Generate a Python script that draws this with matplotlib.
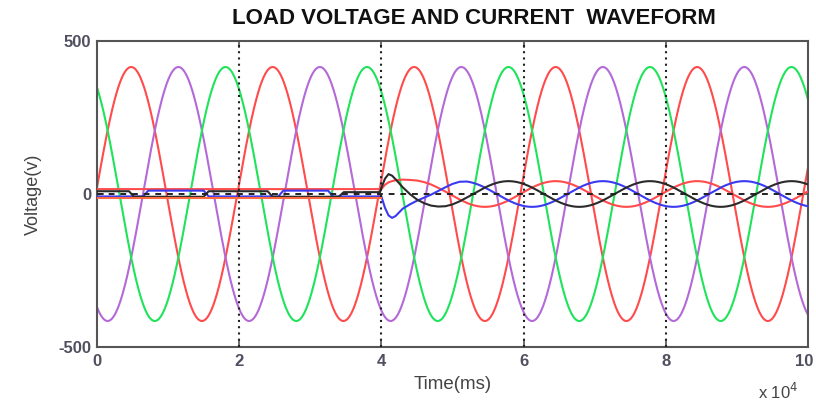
import numpy as np
import matplotlib
matplotlib.use("Agg")
import matplotlib.pyplot as plt
import matplotlib.transforms as mtransforms

plt.rcParams['font.family'] = ['Liberation Sans', 'DejaVu Sans']

# ---------------- data ----------------
# time axis in units of 1e4 ms
x_ticks = [0, 2, 4, 6, 8, 10]
y_ticks = [-500, 0, 500]
grid_x = [2, 4, 6, 8]

# three-phase load voltage: amplitude, period, phase (deg)
v_amp = 415.0
period = 1.99
phase_red = 3.0
phase_purple = -117.0
phase_green = 123.0

# load currents after the switching instant (t = 4): amplitude, same phases
i_amp = 42.0
t_switch = 4.0

# currents before switching (small step-like levels)
red_pre_level = 16.0
orange_pre_level = -12.0
blue_pre_t = [0.0, 0.65, 0.72, 1.5, 1.57, 2.55, 2.62, 3.25, 3.32, 4.0]
blue_pre_v = [-8, -8, 11, 11, -8, -8, 11, 11, -8, -8]
black_pre_t = [0.0, 0.45, 0.52, 1.5, 1.57, 2.4, 2.47, 3.4, 3.47, 3.98]
black_pre_v = [9, 9, -9, -9, 9, 9, -9, -9, 6, 6]

# transient just after switching
trans_t = [4.0, 4.05, 4.1, 4.15, 4.2, 4.3, 4.4, 4.5, 4.6, 4.7, 4.8, 4.9, 5.0, 5.1, 5.2]
red_trans = [16, 30, 38, 42, 45, 47, 46, 44, 39, 31, 20, 8, -5, -18, -29]
blue_trans = [-8, -45, -70, -78, -72, -48, -34, -22, -12, -2, 10, 22, 33, 40, 41]
black_trans = [20, 50, 65, 60, 48, 22, 0, -18, -30, -38, -41, -40, -34, -24, -12]

# ---------------- figure ----------------
W, H = 816, 403
fig = plt.figure(figsize=(W / 100, H / 100), dpi=100)
ax = fig.add_axes([97 / W, 1 - 347 / H, (808 - 97) / W, (347 - 41) / H])

t = np.linspace(0, 10, 4001)
w = 2 * np.pi / period


def wave(amp, ph, tt):
    return amp * np.sin(w * tt + np.deg2rad(ph))


c_red = '#ff4b4b'
c_purple = '#b469d8'
c_green = '#1fe35a'
c_blue = '#3a3af0'
c_black = '#2a2a2a'
c_orange = '#ff6a40'

lw = 1.5

# currents
t_post = t[t > trans_t[-1]]
for pre_t, pre_v, tr, ph, col in [
    ([0, t_switch], [red_pre_level, red_pre_level], red_trans, phase_red, c_red),
    (blue_pre_t, blue_pre_v, blue_trans, phase_purple, c_blue),
    (black_pre_t, black_pre_v, black_trans, phase_green, c_black),
]:
    tt = np.concatenate([pre_t, trans_t, t_post])
    vv = np.concatenate([pre_v, tr, wave(i_amp, ph, t_post)])
    ax.plot(tt, vv, color=col, lw=lw, zorder=3)

ax.plot([0, t_switch], [orange_pre_level, orange_pre_level], color=c_orange, lw=lw, zorder=3)

# voltages
ax.plot(t, wave(v_amp, phase_red, t), color=c_red, lw=lw, zorder=2)
ax.plot(t, wave(v_amp, phase_purple, t), color=c_purple, lw=lw, zorder=2)
ax.plot(t, wave(v_amp, phase_green, t), color=c_green, lw=lw, zorder=2)

# zero dashed line
ax.plot([0, 10], [0, 0], color='#222222', lw=1.4, ls=(0, (3, 3)), zorder=4)

# vertical dotted grid
for g in grid_x:
    ax.axvline(g, color='#222222', lw=1.5, ls=(0, (1, 2)), zorder=5)

ax.set_xlim(0, 10)
ax.set_ylim(-500, 500)
ax.set_xticks(x_ticks)
ax.set_yticks(y_ticks)
ax.set_xticklabels([str(v) for v in x_ticks])
ax.set_yticklabels([str(v) for v in y_ticks])
ax.tick_params(direction='in', length=5, width=1.2, colors='#555555',
               labelsize=12, top=True, right=True, pad=5)
ax.tick_params(axis='y', pad=4)
for lab in ax.get_xticklabels() + ax.get_yticklabels():
    lab.set_fontweight('bold')
    lab.set_color('#4f4f5f')
# keep the last x label inside the canvas
last = ax.get_xticklabels()[-1]
last.set_transform(last.get_transform() +
                   mtransforms.ScaledTranslation(-4 / 100, 0, fig.dpi_scale_trans))
for s in ax.spines.values():
    s.set_color('#555555')
    s.set_linewidth(1.5)

ax.set_xlabel('Time(ms)', fontsize=13.5, color='#444444', labelpad=5)
ax.set_ylabel('Voltage(v)', fontsize=13, color='#444444', labelpad=12)
fig.text(778 / W, 1 - 392 / H, r'x 10$^4$', fontsize=12, color='#444444',
         ha='center', va='center')

fig.text(474 / W, 1 - 18 / H, 'LOAD VOLTAGE AND CURRENT  WAVEFORM',
         fontsize=16, fontweight='bold', ha='center', va='center', color='#111111')

fig.savefig('out.png', dpi=100)
